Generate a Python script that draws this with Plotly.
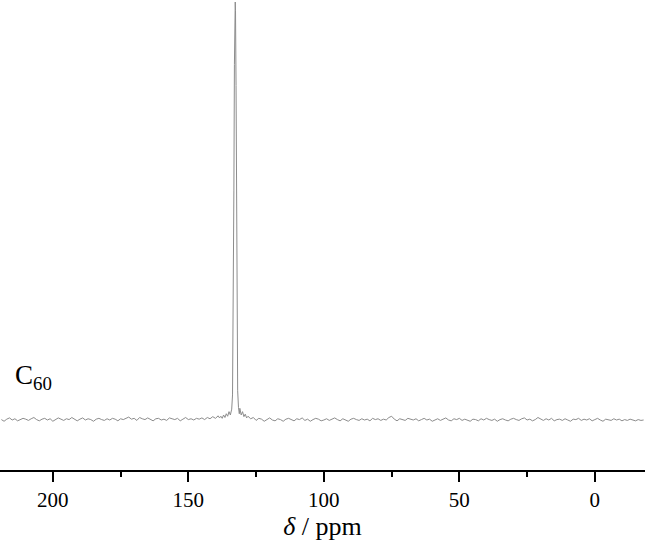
import plotly.graph_objects as go

# desplazamiento químico (ppm) e intensidad relativa (pico = 100)
ppm_izq = [219, 218, 217, 216, 215, 214, 213, 212, 211, 210, 209, 208, 207, 206, 205, 204, 203, 202, 201, 200,
           199, 198, 197, 196, 195, 194, 193, 192, 191, 190, 189, 188, 187, 186, 185, 184, 183, 182, 181, 180,
           179, 178, 177, 176, 175, 174, 173, 172, 171, 170, 169, 168, 167, 166, 165, 164, 163, 162, 161, 160,
           159, 158, 157, 156, 155, 154, 153, 152, 151, 150, 149, 148, 147, 146, 145, 144, 143, 142, 141, 140, 139]
int_izq = [0.1, -0.3, 0.2, 0.5, 0.0, 0.3, -0.2, 0.1, 0.4, 0.2, -0.1, 0.3, 0.6, 0.1, -0.2, 0.2, 0.4, 0.0, 0.3, -0.3,
           0.1, 0.5, 0.2, -0.1, 0.3, 0.1, 0.6, 0.2, -0.2, 0.2, 0.5, 0.0, 0.3, 0.1, -0.3, 0.2, 0.4, 0.1, -0.1, 0.3,
           0.0, 0.4, 0.2, -0.2, 0.3, 0.1, 0.5, 0.7, 0.2, 0.4, -0.1, 0.6, 0.3, 0.1, 0.5, 0.2, -0.2, 0.3, 0.4, 0.0,
           0.2, -0.1, 0.5, 0.3, 0.1, 0.4, -0.2, 0.2, 0.6, 0.1, 0.3, 0.0, 0.4, 0.2, 0.5, 0.1, 0.6, 0.3, 0.8, 0.4, 1.0]

ppm_pico = [138.5, 138, 137.5, 137, 136.5, 136, 135.5, 135, 134.5, 134, 133.7, 133.4, 133.2, 133.0, 132.8,
            132.7, 132.6, 132.4, 132.2, 132.0, 131.8, 131.5, 131.2, 131.0, 130.5, 130.0, 129.5, 129.0, 128.5, 128.0]
int_pico = [0.5, 0.9, 0.4, 1.2, 0.6, 1.5, 0.9, 2.0, 1.2, 2.6, 6.0, 25.0, 55.0, 85.0, 99.0,
            100.0, 98.0, 80.0, 50.0, 22.0, 7.0, 3.0, 1.5, 2.8, 1.2, 2.0, 0.8, 1.4, 0.5, 0.9]

ppm_der = [127, 126, 125, 124, 123, 122, 121, 120, 119, 118, 117, 116, 115, 114, 113, 112, 111, 110, 109, 108,
           107, 106, 105, 104, 103, 102, 101, 100, 99, 98, 97, 96, 95, 94, 93, 92, 91, 90, 89, 88,
           87, 86, 85, 84, 83, 82, 81, 80, 79, 78, 77, 76, 75, 74, 73, 72, 71, 70, 69, 68,
           67, 66, 65, 64, 63, 62, 61, 60, 59, 58, 57, 56, 55, 54, 53, 52, 51, 50, 49, 48,
           47, 46, 45, 44, 43, 42, 41, 40, 39, 38, 37, 36, 35, 34, 33, 32, 31, 30, 29, 28,
           27, 26, 25, 24, 23, 22, 21, 20, 19, 18, 17, 16, 15, 14, 13, 12, 11, 10, 9, 8,
           7, 6, 5, 4, 3, 2, 1, 0, -1, -2, -3, -4, -5, -6, -7, -8, -9, -10, -11, -12,
           -13, -14, -15, -16, -17, -18]
int_der = [0.3, 0.6, -0.1, 0.4, 0.2, -0.3, 0.1, 0.5, 0.0, -0.2, 0.3, 0.1, -0.3, 0.2, 0.4, 0.0, -0.2, 0.3, 0.1, 0.5,
           -0.1, 0.2, -0.3, 0.1, 0.4, 0.2, -0.2, 0.0, 0.3, -0.1, 0.2, 0.5, 0.1, -0.2, 0.3, 0.0, -0.3, 0.2, 0.4, 0.1,
           -0.1, 0.3, 0.0, 0.2, -0.2, 0.4, 0.1, 0.3, -0.1, 0.2, 0.0, 0.6, 0.9, 0.2, -0.2, 0.3, 0.1, -0.1, 0.4, 0.2,
           0.0, 0.3, -0.2, 0.1, 0.4, 0.0, 0.2, -0.3, 0.1, 0.3, -0.1, 0.2, 0.5, 0.0, -0.2, 0.3, 0.1, 0.4, -0.1, 0.2,
           0.0, -0.3, 0.2, 0.1, -0.2, 0.3, 0.0, 0.4, 0.1, -0.1, 0.2, -0.3, 0.1, 0.3, 0.0, -0.2, 0.2, 0.4, 0.1, -0.1,
           0.3, 0.5, 0.0, 0.2, -0.2, 0.1, 0.6, 0.2, -0.1, 0.3, 0.0, 0.4, -0.2, 0.1, 0.2, -0.1, 0.3, 0.0, -0.3, 0.2,
           0.1, 0.4, -0.1, 0.2, 0.0, 0.3, -0.2, 0.1, 0.4, 0.0, -0.3, 0.2, 0.1, -0.1, 0.3, 0.0, 0.2, -0.2, 0.1, -0.1,
           0.2, 0.0, -0.2, 0.1, -0.1, 0.0]

ppm = ppm_izq + ppm_pico + ppm_der
intensidad = int_izq + int_pico + int_der

fuente = "Liberation Serif"

fig = go.Figure()

fig.add_trace(go.Scatter(
    x=ppm,
    y=intensidad,
    mode="lines",
    line=dict(color="#8c8c8c", width=1),
    showlegend=False,
))

# etiqueta de la muestra
fig.add_annotation(
    text="C<sub>60</sub>",
    xref="paper", yref="paper",
    x=0.02, y=0.158,
    xanchor="left", yanchor="bottom",
    showarrow=False,
    font=dict(family=fuente, size=27, color="black"),
)

fig.update_layout(
    width=645,
    height=542,
    margin=dict(l=0, r=0, t=0, b=72),
    paper_bgcolor="white",
    plot_bgcolor="white",
    font=dict(family=fuente, color="black"),
    xaxis=dict(
        range=[219.5, -18.5],
        tickvals=[200, 150, 100, 50, 0],
        ticks="outside",
        ticklen=10,
        tickwidth=1.5,
        tickcolor="black",
        showline=True,
        linewidth=2,
        linecolor="black",
        showgrid=False,
        zeroline=False,
        tickfont=dict(family=fuente, size=21),
        minor=dict(dtick=25, ticks="outside", ticklen=5, tickwidth=1.5, tickcolor="black", showgrid=False),
        title=dict(text="<i>δ</i> / ppm", font=dict(family=fuente, size=26), standoff=0),
    ),
    yaxis=dict(
        range=[-11.96, 100.48],
        visible=False,
    ),
)

# quitar el margen por defecto del body para que la figura ocupe toda la ventana
fig.write_html("out.html", config={"displayModeBar": False},
               post_script="document.body.style.margin='0';")
